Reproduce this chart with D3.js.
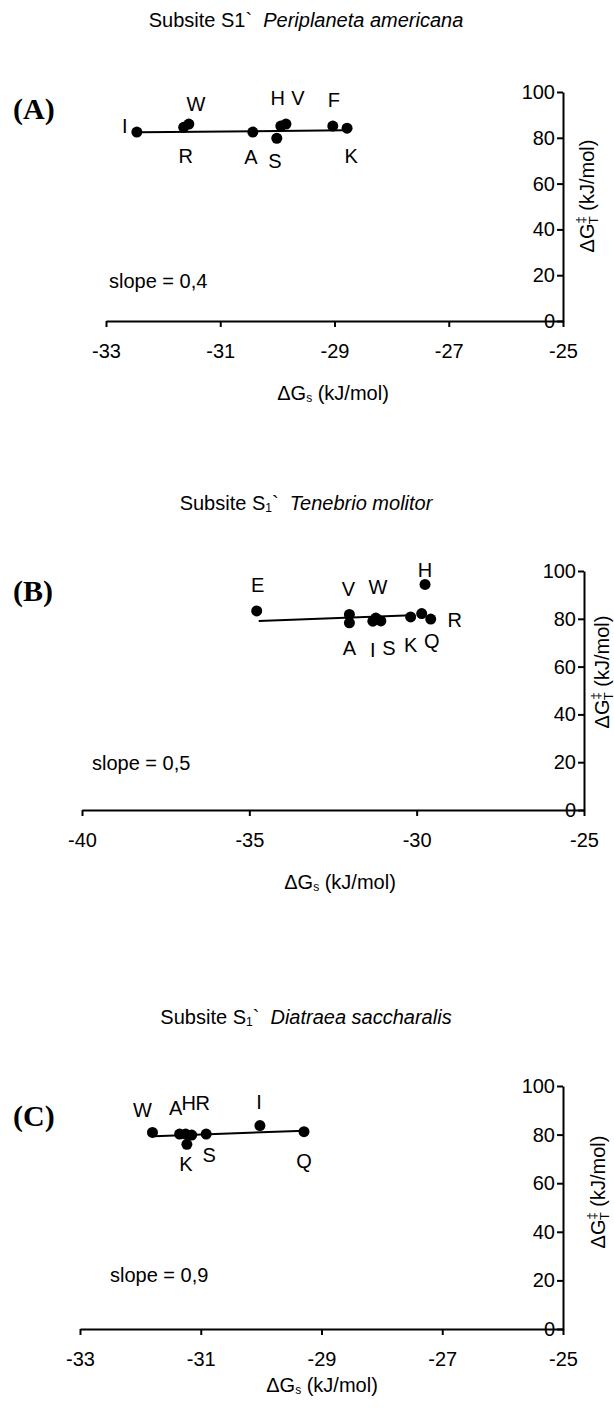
<!DOCTYPE html>
<html><head><meta charset="utf-8">
<script src="https://cdn.jsdelivr.net/npm/d3@7"></script>
<style>
body{margin:0;background:#fff}
svg{display:block}
text{font-family:"Liberation Sans",Arial,Helvetica,sans-serif;fill:#000}
</style></head><body>
<svg id="chart" width="614" height="1414"></svg>
<script>
// ---------- data ----------
const yTicks = [0, 20, 40, 60, 80, 100];

// Panel A : Periplaneta americana
const aSpecies = "Periplaneta americana";
const aSlope = "slope = 0,4";
const aXDomain = [-33, -25];
const aXTicks = [-33, -31, -29, -27, -25];
const aLabels = ["I", "R", "W", "A", "S", "H", "V", "F", "K"];
const aX = [-32.46, -31.64, -31.55, -30.43, -30.01, -29.94, -29.85, -29.03, -28.78];
const aY = [82.5, 84.6, 86.0, 82.5, 79.8, 85.1, 86.0, 85.1, 84.2];
const aFitX = [-32.4, -28.8];
const aFitY = [82.4, 83.3];

// Panel B : Tenebrio molitor
const bSpecies = "Tenebrio molitor";
const bSlope = "slope = 0,5";
const bXDomain = [-40, -25];
const bXTicks = [-40, -35, -30, -25];
const bLabels = ["E", "V", "A", "W", "I", "S", "K", "H", "Q", "R"];
const bX = [-34.78, -32.01, -32.01, -31.22, -31.31, -31.07, -30.18, -29.75, -29.85, -29.58];
const bY = [83.3, 81.8, 78.3, 80.3, 79.0, 79.1, 80.8, 94.4, 82.2, 79.9];
const bFitX = [-34.72, -30.15];
const bFitY = [79.1, 81.5];

// Panel C : Diatraea saccharalis
const cSpecies = "Diatraea saccharalis";
const cSlope = "slope = 0,9";
const cXDomain = [-33, -25];
const cXTicks = [-33, -31, -29, -27, -25];
const cLabels = ["W", "A", "H", "R", "S", "I", "Q", "K"];
const cX = [-31.80, -31.35, -31.25, -31.15, -30.91, -30.02, -29.29, -31.23];
const cY = [80.9, 80.2, 80.2, 79.8, 80.2, 83.7, 81.2, 76.0];
const cFitX = [-31.77, -29.28];
const cFitY = [79.3, 81.6];

// ---------- layout ----------
const panels = [
  {tag: "(A)", sub: false, species: aSpecies, slope: aSlope, xDomain: aXDomain, xTicks: aXTicks,
   labels: aLabels, xs: aX, ys: aY, fitX: aFitX, fitY: aFitY,
   left: 106, right: 563, top: 92, bottom: 321, titleY: 20, tagY: 108, slopeX: 109, slopeY: 281,
   xTitleX: 333, xTitleY: 393, yTitleX: 587, yTitleY: 196,
   offsets: [[-12,-6],[2,29],[7,-20],[-2,25],[-2,23],[-3,-28],[12,-26],[1,-26],[4,28]]},
  {tag: "(B)", sub: true, species: bSpecies, slope: bSlope, xDomain: bXDomain, xTicks: bXTicks,
   labels: bLabels, xs: bX, ys: bY, fitX: bFitX, fitY: bFitY,
   left: 82, right: 584, top: 571, bottom: 810, titleY: 503, tagY: 590, slopeX: 92, slopeY: 763,
   xTitleX: 340, xTitleY: 882, yTitleX: 602, yTitleY: 672,
   offsets: [[1,-26],[-1,-25],[0,25],[2,-31],[0,29],[8,27],[0,28],[0,-14],[10,27],[24,1]]},
  {tag: "(C)", sub: true, species: cSpecies, slope: cSlope, xDomain: cXDomain, xTicks: cXTicks,
   labels: cLabels, xs: cX, ys: cY, fitX: cFitX, fitY: cFitY,
   left: 80, right: 563, top: 1086, bottom: 1329, titleY: 1017, tagY: 1115, slopeX: 110, slopeY: 1275,
   xTitleX: 322, xTitleY: 1385, yTitleX: 598, yTitleY: 1192,
   offsets: [[-10,-22],[-4,-26],[3,-31],[11,-32],[3,21],[-1,-24],[0,29],[-1,20]]}
];

const svg = d3.select("#chart");
const FS = 20;

panels.forEach(p => {
  const g = svg.append("g");
  const x = d3.scaleLinear().domain(p.xDomain).range([p.left, p.right]);
  const y = d3.scaleLinear().domain([0, 100]).range([p.bottom, p.top]);

  // panel title
  const t = g.append("text").attr("x", 306).attr("y", p.titleY).attr("text-anchor", "middle")
    .attr("dominant-baseline", "central").style("font-size", FS + "px");
  if (p.sub) {
    t.append("tspan").text("Subsite S");
    t.append("tspan").text("1").style("font-size", "12px").attr("dy", 5);
    t.append("tspan").text("`\u00a0 ").attr("dy", -5);
  } else {
    t.append("tspan").text("Subsite S1`\u00a0 ");
  }
  t.append("tspan").text(p.species).style("font-style", "italic");

  // panel tag
  g.append("text").attr("x", 13).attr("y", p.tagY).attr("dominant-baseline", "central")
    .style("font-family", "'Liberation Serif','Times New Roman',serif")
    .style("font-weight", "bold").style("font-size", "30px").text(p.tag);

  // axes
  const xAxis = d3.axisBottom(x).tickValues(p.xTicks).tickSize(6).tickSizeOuter(0).tickPadding(17)
    .tickFormat(d3.format("d"));
  const gx = g.append("g").attr("transform", `translate(0,${p.bottom})`).call(xAxis);
  const yAxis = d3.axisLeft(y).tickValues(yTicks).tickSize(6).tickSizeOuter(0).tickPadding(2);
  const gy = g.append("g").attr("transform", `translate(${p.right},0)`).call(yAxis);
  [gx, gy].forEach(a => {
    a.selectAll("path.domain").attr("stroke", "#000").attr("stroke-width", 2);
    a.selectAll(".tick line").attr("stroke", "#000").attr("stroke-width", 2);
    a.selectAll(".tick text").style("font-size", FS + "px")
      .style("font-family", "'Liberation Sans',Arial,sans-serif").attr("fill", "#000");
  });
  gx.selectAll(".tick text").text(d => d < 0 ? "-" + Math.abs(d) : d);

  // x title
  const xt = g.append("text").attr("x", p.xTitleX).attr("y", p.xTitleY).attr("text-anchor", "middle")
    .attr("dominant-baseline", "central").style("font-size", FS + "px");
  xt.append("tspan").text("\u0394G");
  xt.append("tspan").text("s").style("font-size", "12px").attr("dy", 5);
  xt.append("tspan").text(" (kJ/mol)").attr("dy", -5);

  // y title
  const yt = g.append("text").attr("transform", `translate(${p.yTitleX},${p.yTitleY}) rotate(-90)`)
    .attr("text-anchor", "middle").attr("dominant-baseline", "central").style("font-size", FS + "px");
  yt.append("tspan").text("\u0394G");
  yt.append("tspan").text("\u2021").style("font-size", "13px").attr("dy", -7);
  yt.append("tspan").text("T").style("font-size", "13px").attr("dx", -8).attr("dy", 13);
  yt.append("tspan").text(" (kJ/mol)").attr("dy", -6);

  // slope
  g.append("text").attr("x", p.slopeX).attr("y", p.slopeY).attr("dominant-baseline", "central")
    .style("font-size", FS + "px").text(p.slope);

  // fit line
  g.append("line")
    .attr("x1", x(p.fitX[0])).attr("y1", y(p.fitY[0]))
    .attr("x2", x(p.fitX[1])).attr("y2", y(p.fitY[1]))
    .attr("stroke", "#000").attr("stroke-width", 2);

  // points
  const pts = p.labels.map((l, i) => ({l, x: p.xs[i], y: p.ys[i], o: p.offsets[i]}));
  g.selectAll("circle").data(pts).enter().append("circle")
    .attr("cx", d => x(d.x)).attr("cy", d => y(d.y)).attr("r", 5.5).attr("fill", "#000");
  g.selectAll("text.lbl").data(pts).enter().append("text").attr("class", "lbl")
    .attr("x", d => x(d.x) + d.o[0]).attr("y", d => y(d.y) + d.o[1])
    .attr("text-anchor", "middle").attr("dominant-baseline", "central")
    .style("font-size", FS + "px").text(d => d.l);
});
</script>
</body></html>
